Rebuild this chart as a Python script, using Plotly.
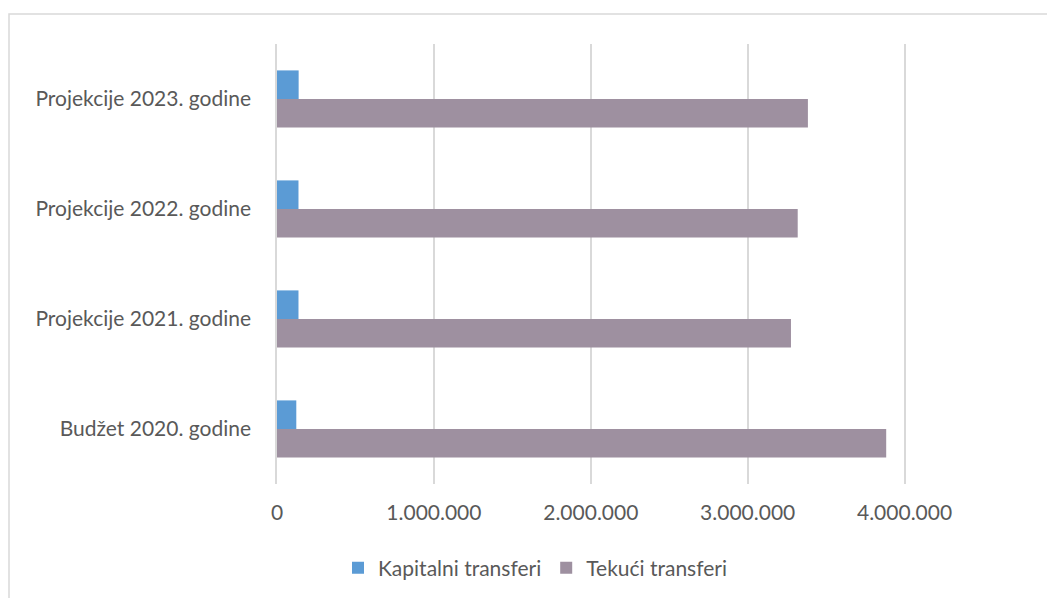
import plotly.graph_objects as go

categories = ["Budžet 2020. godine", "Projekcije 2021. godine", "Projekcije 2022. godine", "Projekcije 2023. godine"]
kapitalni = [123000, 137000, 137000, 138000]
tekuci = [3883000, 3276000, 3319000, 3384000]
tick_vals = [0, 1000000, 2000000, 3000000, 4000000]
tick_text = ["0", "1.000.000", "2.000.000", "3.000.000", "4.000.000"]

W, H = 1047, 598
L, R, T, B = 277, 64, 44, 114
pw, ph = W - L - R, H - T - B

font = dict(family="Lato, 'Open Sans', sans-serif", size=21, color="#595959")

fig = go.Figure()
fig.add_trace(go.Bar(y=categories, x=tekuci, orientation="h", name="Tekući transferi",
                     marker=dict(color="#9E90A0", line=dict(width=0))))
fig.add_trace(go.Bar(y=categories, x=kapitalni, orientation="h", name="Kapitalni transferi",
                     marker=dict(color="#5B9BD5", line=dict(width=0))))

def px_x(p):
    return (p - L) / pw

def px_y(p):
    return (H - B - p) / ph

fig.update_layout(
    width=W, height=H,
    margin=dict(l=L, r=R, t=T, b=B, autoexpand=False),
    paper_bgcolor="white", plot_bgcolor="white",
    barmode="group", bargap=0.48, bargroupgap=0,
    font=font,
    showlegend=True,
    legend=dict(orientation="h", x=px_x(535), xanchor="center", y=px_y(568), yanchor="middle",
                traceorder="reversed", font=font, itemwidth=30),
    xaxis=dict(range=[0, 4500000], tickvals=tick_vals, ticktext=tick_text,
               showgrid=True, gridcolor="#D9D9D9", gridwidth=1.5, zeroline=False,
               showline=False, ticks="", tickfont=font, ticklabelstandoff=14),
    yaxis=dict(categoryorder="array", categoryarray=categories, showgrid=False,
               showline=True, linecolor="#D9D9D9", linewidth=1.5, ticks="",
               tickfont=font, ticklabelstandoff=20),
    shapes=[dict(type="rect", xref="paper", yref="paper",
                 x0=px_x(9), x1=px_x(1060), y0=px_y(620), y1=px_y(14),
                 line=dict(color="#D9D9D9", width=1.5), fillcolor="rgba(0,0,0,0)", layer="below")],
)

fig.write_html("out.html", config={"displayModeBar": False},
               post_script="document.body.style.margin='0';document.body.style.overflow='hidden';")
